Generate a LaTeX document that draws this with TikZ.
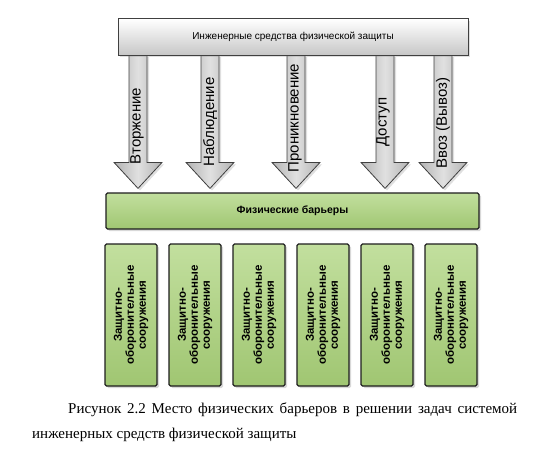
\documentclass[tikz,border=0pt]{standalone}
\usepackage{fontspec}
\setmainfont{Liberation Sans}
\newfontfamily\capfont{Liberation Serif}
\usetikzlibrary{shadows,calc}
\definecolor{grnTop}{HTML}{C2DF9E}
\definecolor{grnBot}{HTML}{A0C672}
\definecolor{edge}{HTML}{1E1E1E}
\tikzset{
  topbox/.style={draw=edge!85, line width=1pt, top color=white, bottom color=black!22,
    minimum width=350pt, minimum height=36pt, inner sep=0pt,
    font=\fontsize{10}{12}\selectfont,
    drop shadow={shadow xshift=2pt, shadow yshift=-2pt, opacity=0.25}},
  barbox/.style={draw=edge, line width=1.2pt, rounded corners=1.5pt, top color=grnTop, bottom color=grnBot,
    minimum width=373pt, minimum height=36pt, inner sep=0pt,
    font=\fontsize{10.5}{12}\selectfont\bfseries,
    drop shadow={shadow xshift=2pt, shadow yshift=-2pt, opacity=0.3}},
  subbox/.style={draw=edge, line width=1.2pt, rounded corners=1.5pt, top color=grnTop, bottom color=grnBot,
    minimum width=52pt, minimum height=142pt, inner sep=0pt,
    drop shadow={shadow xshift=2pt, shadow yshift=-2pt, opacity=0.3}},
  subtext/.style={rotate=90, align=center, inner sep=0pt, font=\fontsize{11.5}{12}\selectfont\bfseries},
  blockarrow/.style={draw=black!75, line width=0.8pt, left color=black!30, right color=black!30, middle color=black!12,
    drop shadow={shadow xshift=2pt, shadow yshift=-2pt, opacity=0.25}},
  arrowlabel/.style={rotate=90, inner sep=0pt, font=\fontsize{15}{16}\selectfont},
  captext/.style={anchor=base west, inner sep=0pt, font=\capfont\fontsize{15}{18}\selectfont}
}
\begin{document}
\begin{tikzpicture}[x=1pt,y=-1pt]
\useasboundingbox[fill=white] (0,0) rectangle (545,460);

% main boxes
\node[barbox] (bar) at (292.5,211) {Физические барьеры};

% block arrows (drawn before the top box)
\foreach \x/\n in {138/1,210/2,296/3,385/4,443/5}{
  \coordinate (c\n) at (\x,0);
  \coordinate (s\n) at ($(c\n |- 0,55)$);
  \coordinate (t\n) at (c\n |- bar.north);
  \draw[blockarrow] ($(s\n)+(-9,0)$) -- ($(t\n)+(-9,-30)$) -- ($(t\n)+(-24,-30)$) -- ($(t\n)+(0,-4)$)
     -- ($(t\n)+(24,-30)$) -- ($(t\n)+(9,-30)$) -- ($(s\n)+(9,0)$);
}
\node[topbox] (top) at (293,37) {Инженерные средства физической защиты};

% arrow labels
\node[arrowlabel] (l1) at (137,126) {Вторжение};
\node[arrowlabel] (l2) at (210,122) {Наблюдение};
\node[arrowlabel] (l3) at (295,118) {Проникновение};
\node[arrowlabel] (l4) at (383,122) {Доступ};
\node[arrowlabel] (l5) at (443,123) {Ввоз (Вывоз)};

% sub boxes
\foreach \i in {0,...,5}{
  \node[subbox] (b\i) at (131+64*\i,315) {};
  \node[subtext] (bt\i) at (b\i.center) {Защитно-\\оборонительные\\сооружения};
}

% caption
\node[captext] (cap1) at (68,413) {\hbox to 449pt{Рисунок 2.2 Место физических барьеров в решении задач системой}};
\node[captext] (cap2) at (32,438) {инженерных средств физической защиты};
\end{tikzpicture}
\end{document}
